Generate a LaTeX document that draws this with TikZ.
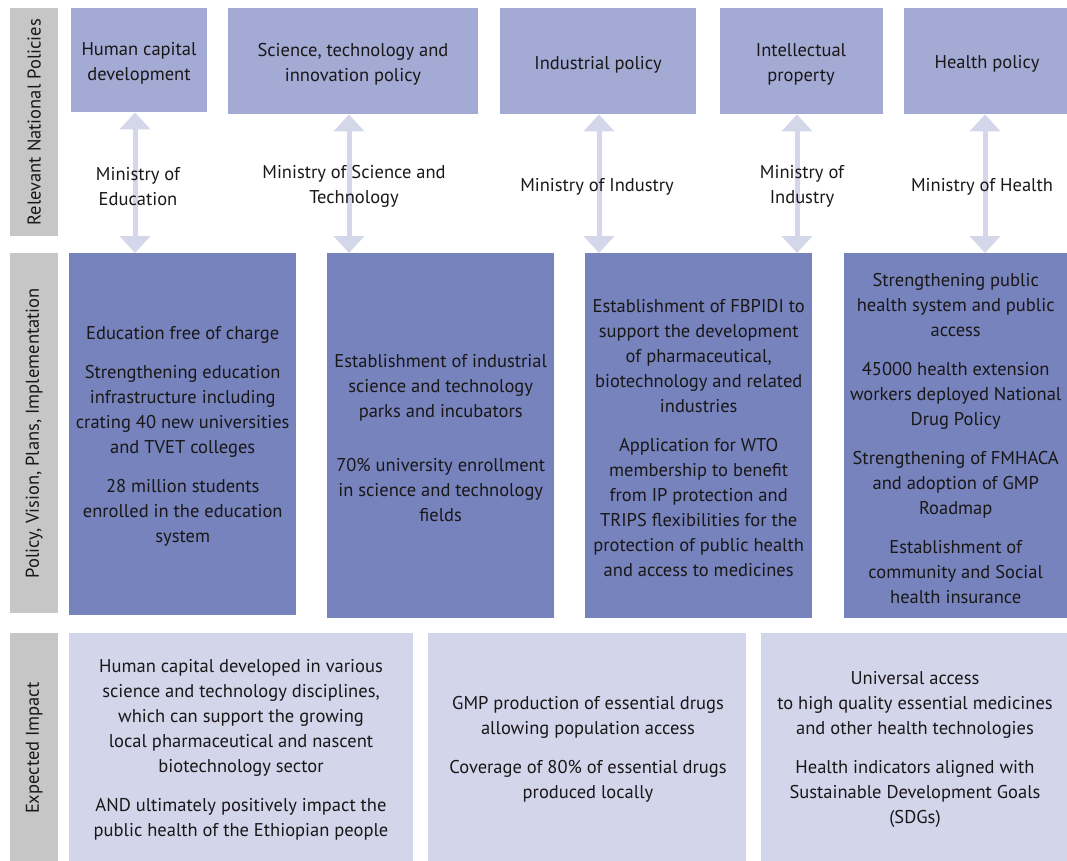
\documentclass[tikz,border=0pt]{standalone}
\usepackage{fontspec}
\setmainfont{PT Sans}
\usetikzlibrary{arrows.meta}
\definecolor{txt}{HTML}{1A1718}
\definecolor{topc}{HTML}{A3AAD3}
\definecolor{midc}{HTML}{7683BC}
\definecolor{botc}{HTML}{D3D5EA}
\definecolor{grayc}{HTML}{C6C6C6}
\definecolor{arrc}{HTML}{D4D7EA}
\begin{document}
\begin{tikzpicture}[x=1pt,y=-1pt,
  every node/.style={text=txt,font=\fontsize{18.5}{25}\selectfont,inner sep=0pt,align=center},
  box/.style={anchor=north west,minimum width=#1},
  topbox/.style={fill=topc},
  midbox/.style={fill=midc},
  botbox/.style={fill=botc},
  sidebox/.style={fill=grayc,anchor=north west,minimum width=48pt},
  sidelabel/.style={rotate=90},
  lbl/.style={yshift=-2.5pt},
  arr/.style={draw=arrc,line width=5pt,{Triangle[width=30pt,length=17pt]}-{Triangle[width=30pt,length=17pt]}}
]
\useasboundingbox (0,0) rectangle (1067,861);
% side labels
\node[sidebox,minimum height=228pt] (s1) at (10,8) {};
\node[sidebox,minimum height=360pt] (s2) at (10,253) {};
\node[sidebox,minimum height=228pt] (s3) at (10,633) {};
\node[sidelabel] (sl1) at (s1.center) {Relevant National Policies};
\node[sidelabel] (sl2) at (s2.center) {Policy, Vision, Plans, Implementation};
\node[sidelabel] (sl3) at ([yshift=-1pt]s3.center) {Expected Impact};
% top boxes
\node[box=136pt,topbox,minimum height=104pt] (t1) at (71,8) {};
\node[box=250pt,topbox,minimum height=106pt] (t2) at (228,8) {};
\node[box=196pt,topbox,minimum height=106pt] (t3) at (500,8) {};
\node[box=163pt,topbox,minimum height=106pt] (t4) at (720,8) {};
\node[box=163pt,topbox,minimum height=106pt] (t5) at (904,8) {};
\node[lbl] (tl1) at (139,61) {Human capital\\development};
\node[lbl] (tl2) at (353,62) {Science, technology and\\innovation policy};
\node[lbl] (tl3) at (598,62) {Industrial policy};
\node[lbl] (tl4) at (801,62) {Intellectual\\property};
\node[lbl] (tl5) at (987,61) {Health policy};
% middle boxes
\node[box=227pt,midbox,minimum height=362pt] (m1) at (69,253) {};
\node[box=227pt,midbox,minimum height=365pt] (m2) at (327,253) {};
\node[box=227pt,midbox,minimum height=365pt] (m3) at (585,253) {};
\node[box=223pt,midbox,minimum height=365pt] (m4) at (844,253) {};
\node[lbl] (ml1) at (m1.center) {Education free of charge\\[14pt]Strengthening education\\infrastructure including\\crating 40 new universities\\and TVET colleges\\[14pt]28 million students\\enrolled in the education\\system};
\node[lbl] (ml2) at (m2.center) {Establishment of industrial\\science and technology\\parks and incubators\\[29pt]70\% university enrollment\\in science and technology\\fields};
\node[lbl] (ml3) at (m3.center) {Establishment of FBPIDI to\\support the development\\of pharmaceutical,\\biotechnology and related\\industries\\[14pt]Application for WTO\\membership to benefit\\from IP protection and\\TRIPS flexibilities for the\\protection of public health\\and access to medicines};
\node[lbl] (ml4) at (m4.center) {Strengthening public\\health system and public\\access\\[14pt]45000 health extension\\workers deployed National\\Drug Policy\\[14pt]Strengthening of FMHACA\\and adoption of GMP\\Roadmap\\[14pt]Establishment of\\community and Social\\health insurance};
% arrows
\draw[arr] (t1.south -| 135,0) -- (m1.north -| 135,0);
\draw[arr] (t2.south -| 349,0) -- (m2.north -| 349,0);
\draw[arr] (t3.south -| 599,0) -- (m3.north -| 599,0);
\draw[arr] (t4.south -| 797,0) -- (m4.north -| 797,0);
\draw[arr] (t5.south -| 985,0) -- (m4.north -| 985,0);
% ministries
\node[lbl] (n1) at (138,184) {Ministry of\\Education};
\node[lbl] (n2) at (354,184) {Ministry of Science and\\Technology};
\node[lbl] (n3) at (597,184) {Ministry of Industry};
\node[lbl] (n4) at (802,184) {Ministry of\\Industry};
\node[lbl] (n5) at (982,184) {Ministry of Health};
% bottom boxes
\node[box=344pt,botbox,minimum height=228pt] (b1) at (69,633) {};
\node[box=318pt,botbox,minimum height=228pt] (b2) at (428,633) {};
\node[box=306pt,botbox,minimum height=228pt] (b3) at (761,633) {};
\node[lbl] (bl1) at (241,747) {Human capital developed in various\\science and technology disciplines,\\which can support the growing\\local pharmaceutical and nascent\\biotechnology sector\\[14pt]AND ultimately positively impact the\\public health of the Ethiopian people};
\node[lbl] (bl2) at (588,747) {GMP production of essential drugs\\allowing population access\\[14pt]Coverage of 80\% of essential drugs\\produced locally};
\node[lbl] (bl3) at (915,747) {Universal access\\to high quality essential medicines\\and other health technologies\\[14pt]Health indicators aligned with\\Sustainable Development Goals\\(SDGs)};
\end{tikzpicture}
\end{document}
